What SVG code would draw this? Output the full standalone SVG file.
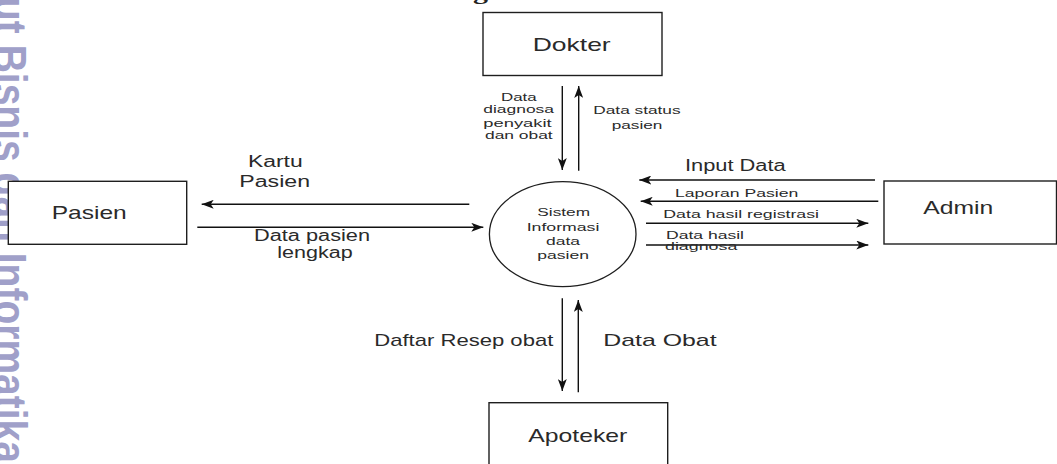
<svg xmlns="http://www.w3.org/2000/svg" width="1057" height="464" viewBox="0 0 1057 464">
<style>
  .box { fill: #ffffff; stroke: #1e1e1e; stroke-width: 1.4; }
  .flow { fill: none; stroke: #111111; stroke-width: 1.4; marker-end: url(#arr); }
  .t { font-family: "Liberation Sans", Arial, sans-serif; fill: #2a2a2a; }
  .big { font-size: 19px; }
  .mid { font-size: 16px; }
  .sm { font-size: 11px; }
  .wm { font-family: "Liberation Sans", Arial, sans-serif; font-weight: bold; font-size: 39px; fill: #a0a0c9; }
</style>
<defs>
  <marker id="arr" markerUnits="userSpaceOnUse" markerWidth="13" markerHeight="9" refX="12" refY="4.5" orient="auto">
    <path d="M0,0 L12,4.5 L0,9 L3,4.5 Z" fill="#111111"/>
  </marker>
</defs>
<rect x="0" y="0" width="1057" height="464" fill="#ffffff"/>

<g id="watermark">
  <text class="wm" transform="translate(-6,-3) rotate(90) scale(1,1.2)" x="0" y="0" textLength="466" lengthAdjust="spacingAndGlyphs">ut Bisnis dan Informatika</text>
</g>
<g id="title-fragment">
  <text x="473" y="-1" font-family="Liberation Serif, serif" font-weight="bold" font-size="22" fill="#222" textLength="15" lengthAdjust="spacingAndGlyphs">g</text>
</g>

<g id="node-dokter">
  <rect class="box" x="483" y="12.5" width="179" height="63"/>
  <text class="t big" x="532.7" y="51" textLength="78" lengthAdjust="spacingAndGlyphs">Dokter</text>
</g>
<g id="node-pasien">
  <rect class="box" x="8.3" y="181.3" width="178.4" height="63"/>
  <text class="t big" x="51.7" y="218.7" textLength="75" lengthAdjust="spacingAndGlyphs">Pasien</text>
</g>
<g id="node-admin">
  <rect class="box" x="884" y="181" width="172.5" height="63"/>
  <text class="t big" x="923.3" y="214.3" textLength="70" lengthAdjust="spacingAndGlyphs">Admin</text>
</g>
<g id="node-apoteker">
  <rect class="box" x="489" y="402.7" width="178.7" height="63"/>
  <text class="t big" x="528.3" y="441.7" textLength="99" lengthAdjust="spacingAndGlyphs">Apoteker</text>
</g>
<g id="node-sistem">
  <ellipse cx="562.7" cy="234.2" rx="73.3" ry="52.5" fill="#ffffff" stroke="#1e1e1e" stroke-width="1.3"/>
  <text class="t" font-size="10.5" x="537.3" y="215.7" textLength="52.7" lengthAdjust="spacingAndGlyphs">Sistem</text>
  <text class="t" font-size="10.5" x="526.7" y="230.7" textLength="72.7" lengthAdjust="spacingAndGlyphs">Informasi</text>
  <text class="t" font-size="10.5" x="546" y="245" textLength="34" lengthAdjust="spacingAndGlyphs">data</text>
  <text class="t" font-size="10.5" x="537.3" y="259" textLength="51.7" lengthAdjust="spacingAndGlyphs">pasien</text>
</g>

<g id="connectors">
  <line class="flow" x1="562.3" y1="86" x2="562.3" y2="170"/>
  <line class="flow" x1="578.7" y1="170.7" x2="578.7" y2="86"/>
  <line class="flow" x1="469.3" y1="204.3" x2="201.7" y2="204.3"/>
  <line class="flow" x1="197.3" y1="227.3" x2="483.3" y2="227.3"/>
  <line class="flow" x1="875" y1="180" x2="639.3" y2="180"/>
  <line class="flow" x1="878.3" y1="201.3" x2="640.7" y2="201.3"/>
  <line class="flow" x1="646" y1="223.3" x2="868.3" y2="223.3"/>
  <line class="flow" x1="646" y1="245" x2="868.3" y2="245"/>
  <line class="flow" x1="562.3" y1="298.3" x2="562.3" y2="391"/>
  <line class="flow" x1="578.3" y1="392.3" x2="578.3" y2="300"/>
</g>

<g id="labels">
  <text class="t sm" x="501" y="100.7" textLength="35.7" lengthAdjust="spacingAndGlyphs">Data</text>
  <text class="t sm" x="483.3" y="113.3" textLength="70.7" lengthAdjust="spacingAndGlyphs">diagnosa</text>
  <text class="t sm" x="483.3" y="126.7" textLength="68.3" lengthAdjust="spacingAndGlyphs">penyakit</text>
  <text class="t sm" x="485" y="139.3" textLength="67.7" lengthAdjust="spacingAndGlyphs">dan obat</text>

  <text class="t sm" x="593.3" y="114.3" textLength="87.3" lengthAdjust="spacingAndGlyphs">Data status</text>
  <text class="t sm" x="611.7" y="128.7" textLength="50.7" lengthAdjust="spacingAndGlyphs">pasien</text>

  <text class="t mid" x="248" y="166.7" textLength="54.7" lengthAdjust="spacingAndGlyphs">Kartu</text>
  <text class="t mid" x="239.3" y="186.7" textLength="70.7" lengthAdjust="spacingAndGlyphs">Pasien</text>

  <text class="t mid" x="254" y="240.7" textLength="116" lengthAdjust="spacingAndGlyphs">Data pasien</text>
  <text class="t mid" x="277.3" y="258.3" textLength="75.3" lengthAdjust="spacingAndGlyphs">lengkap</text>

  <text class="t mid" x="685" y="170.7" textLength="100.7" lengthAdjust="spacingAndGlyphs">Input Data</text>
  <text class="t" font-size="11.5" x="675" y="197.3" textLength="123.3" lengthAdjust="spacingAndGlyphs">Laporan Pasien</text>
  <text class="t" font-size="11.5" x="663.3" y="218.3" textLength="155.7" lengthAdjust="spacingAndGlyphs">Data hasil registrasi</text>
  <text class="t" font-size="11.5" x="666" y="239.3" textLength="78" lengthAdjust="spacingAndGlyphs">Data hasil</text>
  <text class="t" font-size="11.5" x="665" y="250" textLength="72.3" lengthAdjust="spacingAndGlyphs">diagnosa</text>

  <text class="t" font-size="17" x="374.3" y="345.7" textLength="179" lengthAdjust="spacingAndGlyphs">Daftar Resep obat</text>
  <text class="t" font-size="17" x="603.3" y="345.7" textLength="113.3" lengthAdjust="spacingAndGlyphs">Data Obat</text>
</g>
</svg>
